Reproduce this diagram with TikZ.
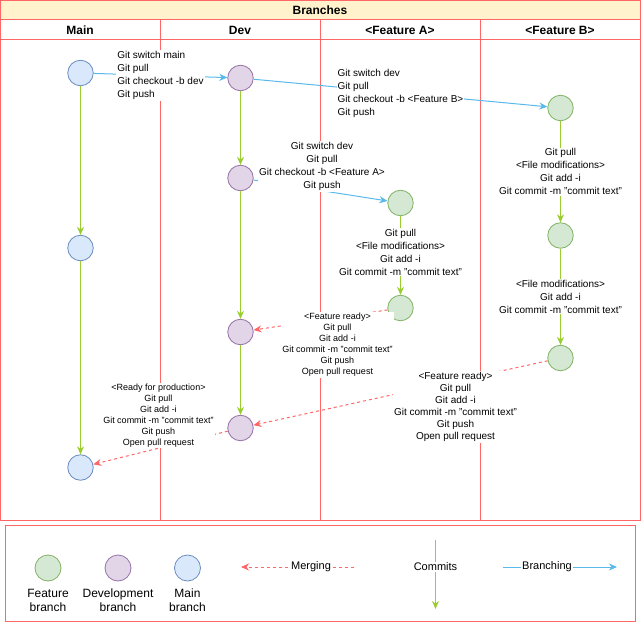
\documentclass[tikz,border=0pt]{standalone}
\usepackage{fontspec}
\setmainfont{Liberation Sans}
\usetikzlibrary{arrows.meta}
\definecolor{gridred}{HTML}{FF6666}
\definecolor{headyellow}{HTML}{FFF2CC}
\definecolor{mainfill}{HTML}{DAE8FC}
\definecolor{maindraw}{HTML}{6C8EBF}
\definecolor{devfill}{HTML}{E1D5E7}
\definecolor{devdraw}{HTML}{9673A6}
\definecolor{featfill}{HTML}{D5E8D4}
\definecolor{featdraw}{HTML}{82B366}
\definecolor{commitgreen}{HTML}{9ACD32}
\definecolor{branchblue}{RGB}{90,185,235}
\tikzset{
  commitnode/.style={circle, minimum size=25.5pt, inner sep=0pt, line width=0.8pt},
  mainc/.style={commitnode, fill=mainfill, draw=maindraw},
  devc/.style={commitnode, fill=devfill, draw=devdraw},
  featc/.style={commitnode, fill=featfill, draw=featdraw},
  tipshape/.style={-{Stealth[length=8pt,width=7pt,inset=2.5pt]}},
  commitarrow/.style={draw=commitgreen, line width=1pt, tipshape},
  brancharrow/.style={draw=branchblue, line width=1pt, tipshape},
  mergearrow/.style={draw=gridred, line width=1pt, dash pattern=on 3pt off 3pt, tipshape},
  lbl/.style={fill=white, inner sep=1pt, font=\fontsize{10}{13}\selectfont, align=center},
  lblleft/.style={lbl, align=left},
  mlbl/.style={fill=white, inner sep=1pt, font=\fontsize{9}{11}\selectfont, align=center},
  headtext/.style={font=\fontsize{12}{14}\selectfont\bfseries},
  legtext/.style={font=\fontsize{12}{14}\selectfont, align=center},
  legkey/.style={fill=white, inner sep=1pt, font=\fontsize{11}{13}\selectfont},
  grid/.style={draw=gridred, line width=1pt},
}
\begin{document}
\begin{tikzpicture}[x=1pt,y=-1pt]
\useasboundingbox (0,0) rectangle (641,626);

% swimlane table
\fill[headyellow] (0.5,0.5) rectangle (640,20);
\draw[grid] (0.5,0.5) rectangle (640,520);
\draw[grid] (0.5,20) -- (640,20);
\draw[grid] (0.5,40) -- (640,40);
\foreach \x in {160,320,480} \draw[grid] (\x,20) -- (\x,520);

\node[headtext] (title) at (320,10) {Branches};
\node[headtext] (hmain) at (80,30) {Main};
\node[headtext] (hdev) at (240,30) {Dev};
\node[headtext] (hfa) at (400,30) {<Feature A>};
\node[headtext] (hfb) at (560,30) {<Feature B>};

% commits
\node[mainc] (M1) at (80.5,73) {};
\node[mainc] (M2) at (80.5,248) {};
\node[mainc] (M3) at (80.5,467.5) {};
\node[devc] (D1) at (240.5,78) {};
\node[devc] (D2) at (240.5,178) {};
\node[devc] (D3) at (240.5,332) {};
\node[devc] (D4) at (240.5,428) {};
\node[featc] (A1) at (400.5,203) {};
\node[featc] (A2) at (400.5,308) {};
\node[featc] (B1) at (560.5,108) {};
\node[featc] (B2) at (560.5,235.5) {};
\node[featc] (B3) at (560.5,358) {};

% commit chains
\draw[commitarrow] (M1) -- (M2);
\draw[commitarrow] (M2) -- (M3);
\draw[commitarrow] (D1) -- (D2);
\draw[commitarrow] (D2) -- (D3);
\draw[commitarrow] (D3) -- (D4);
\draw[commitarrow] (A1) -- node[lbl, yshift=3.5pt] {Git pull\\<File modifications>\\Git add -i\\Git commit -m "commit text"} (A2);
\draw[commitarrow] (B1) -- node[lbl] {Git pull\\<File modifications>\\Git add -i\\Git commit -m "commit text"} (B2);
\draw[commitarrow] (B2) -- node[lbl] {<File modifications>\\Git add -i\\Git commit -m "commit text"} (B3);

% branching
\draw[brancharrow] (M1) -- node[lblleft] {Git switch main\\Git pull\\Git checkout -b dev\\Git push} (D1);
\draw[brancharrow] (D1) -- node[lblleft] {Git switch dev\\Git pull\\Git checkout -b <Feature B>\\Git push} (B1);
\draw[brancharrow] (D2) -- node[lbl, xshift=1.5pt, yshift=24pt] {Git switch dev\\Git pull\\Git checkout -b <Feature A>\\Git push} (A1);

% merging
\draw[mergearrow] (A2) -- node[mlbl, xshift=17pt, yshift=-25pt] {<Feature ready>\\Git pull\\Git add -i\\Git commit -m "commit text"\\Git push\\Open pull request} (D3);
\draw[mergearrow] (B3) -- node[lbl, font=\fontsize{10}{12}\selectfont, xshift=55pt, yshift=-14pt] {<Feature ready>\\Git pull\\Git add -i\\Git commit -m "commit text"\\Git push\\Open pull request} (D4);
\draw[mergearrow] (D4) -- node[mlbl, xshift=-2pt, yshift=32pt] {<Ready for production>\\Git pull\\Git add -i\\Git commit -m "commit text"\\Git push\\Open pull request} (M3);

% legend
\draw[grid] (5.5,525.5) rectangle (635.5,621.5);
\node[featc, minimum size=26pt] (lfeat) at (48,568) {};
\node[devc, minimum size=26pt] (ldev) at (118,568) {};
\node[mainc, minimum size=26pt] (lmain) at (187.5,568) {};
\node[legtext] (tfeat) at (48,600) {Feature\\branch};
\node[legtext] (tdev) at (118,600) {Development\\branch};
\node[legtext] (tmain) at (187.5,600) {Main\\branch};

\coordinate (mgs) at (354,567);
\coordinate (mge) at (241,567);
\draw[mergearrow] (mgs) -- node[legkey, pos=0.38] {Merging} (mge);
\coordinate (cms) at (435.5,540);
\coordinate (cme) at (435.5,609);
\draw[commitarrow] (cms) -- node[legkey, pos=0.39] {Commits} (cme);
\coordinate (brs) at (503,567);
\coordinate (bre) at (617,567);
\draw[brancharrow] (brs) -- node[legkey, pos=0.386] {Branching} (bre);
\end{tikzpicture}
\end{document}
